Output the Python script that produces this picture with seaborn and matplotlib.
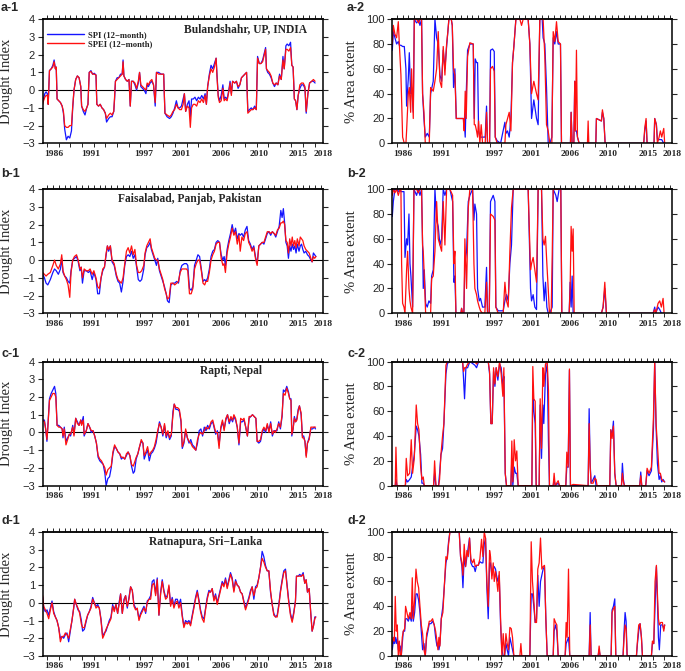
import numpy as np
import pandas as pd
import seaborn as sns
import matplotlib.pyplot as plt
from matplotlib.lines import Line2D

# ---------------- a: Bulandshahr, UP, INDIA ----------------
yr_a1 = [1985.0, 1985.1, 1985.25, 1985.4, 1985.55, 1985.65, 1985.8, 1986.0, 1986.2, 1986.35,
         1986.5, 1986.6, 1986.7, 1986.9, 1987.1, 1987.3, 1987.45, 1987.6, 1987.8, 1988.0,
         1988.2, 1988.4, 1988.55, 1988.7, 1988.9, 1989.1, 1989.3, 1989.5, 1989.6, 1989.8,
         1990.0, 1990.2, 1990.35, 1990.5, 1990.7, 1990.9, 1991.1, 1991.3, 1991.4, 1991.6,
         1991.8, 1992.0, 1992.2, 1992.4, 1992.55, 1992.8, 1993.0, 1993.2, 1993.4, 1993.5,
         1993.6, 1993.8, 1994.0, 1994.2, 1994.4, 1994.5, 1994.6, 1994.8, 1995.0, 1995.2,
         1995.35, 1995.5, 1995.7, 1995.9, 1996.1, 1996.3, 1996.45, 1996.6, 1996.8, 1997.0,
         1997.2, 1997.35, 1997.5, 1997.7, 1997.9, 1998.1, 1998.3, 1998.45, 1998.7, 1999.0,
         1999.3, 1999.45, 1999.7, 2000.0, 2000.2, 2000.4, 2000.6, 2000.8, 2001.0, 2001.2,
         2001.4, 2001.6, 2001.75, 2001.9, 2002.1, 2002.3, 2002.45, 2002.6, 2002.8, 2003.0,
         2003.2, 2003.4, 2003.6, 2003.8, 2004.0, 2004.2, 2004.35, 2004.5, 2004.7, 2004.9,
         2005.1, 2005.3, 2005.5, 2005.6, 2005.75, 2005.9, 2006.1, 2006.3, 2006.45, 2006.6,
         2006.8, 2007.0, 2007.15, 2007.3, 2007.45, 2007.7, 2007.9, 2008.1, 2008.3, 2008.5,
         2008.7, 2008.9, 2009.1, 2009.25, 2009.45, 2009.65, 2009.85, 2010.05, 2010.25, 2010.4,
         2010.6, 2010.8, 2011.0, 2011.2, 2011.35, 2011.45, 2011.6, 2011.8, 2012.0, 2012.2,
         2012.4, 2012.6, 2012.8, 2013.0, 2013.2, 2013.4, 2013.55, 2013.75, 2013.9, 2014.1,
         2014.3, 2014.45, 2014.6, 2014.75, 2014.9, 2015.05, 2015.2, 2015.4, 2015.6, 2015.8,
         2016.0, 2016.15, 2016.35, 2016.55, 2016.8, 2017.0, 2017.2]
spi_a1 = [-0.6, -0.5, -0.2, -0.1, -0.2, -0.8, 1.1, 1.2, 1.4, 1.7,
          1.2, 1.3, -0.5, -0.6, -0.7, -0.9, -1.3, -2.2, -2.8, -2.6,
          -2.7, -2.3, -1.0, 0.0, 0.6, 0.8, 0.7, 0.2, -0.9, -1.2,
          -1.4, -1.0, -0.8, 1.0, 1.1, 0.9, 0.95, 0.85, -0.8, -0.9,
          -0.8, -1.0, -1.1, -1.3, -1.8, -1.6, -1.5, -1.5, -1.2, -0.5,
          0.5, 0.7, 0.7, 0.9, 0.9, 1.7, 0.8, 0.6, 0.5, 0.6,
          -0.9, 0.5, 0.5, 0.3, 0.0, 0.4, 1.0, 0.2, 0.1, 0.0,
          -0.2, 0.3, 0.2, 0.4, 0.5, 0.3, -0.9, 1.0, 1.0, 0.9,
          0.9, -1.3, -1.5, -1.6, -1.5, -1.3, -1.0, -0.6, -1.0, -1.0,
          -0.9, -0.5, -0.2, -1.2, -0.8, -0.6, -1.5, -0.5, -0.5, -0.4,
          -0.6, -0.4, -0.5, -0.3, -0.5, -0.2, -0.8, 0.2, 0.9, 1.4,
          1.2, 1.5, 1.8, 0.9, -0.3, -0.6, -0.3, 0.3, -0.5, -0.4,
          -0.5, 0.0, 0.5, -0.2, 0.5, 0.4, 0.5, 0.1, 0.3, 0.7,
          0.8, 0.9, 1.0, -1.2, -1.1, -1.0, -1.1, -0.9, -1.1, 1.9,
          1.5, 1.5, 1.7, 2.1, 2.4, 1.2, 1.0, 0.9, 0.7, 0.4,
          0.2, 0.4, 0.3, 0.9, 0.6, 1.9, 1.2, 2.5, 2.6, 2.5,
          2.7, 1.4, 1.3, -0.5, -0.6, -1.1, -0.3, 0.1, 0.3, 0.3,
          0.1, -1.3, -0.2, 0.4, 0.5, 0.5, 0.4]
spei_a1 = [-0.8, -0.6, -0.4, -0.3, -0.3, -0.8, 1.1, 1.2, 1.3, 1.6,
           1.2, 1.3, -0.5, -0.6, -0.7, -0.9, -1.2, -2.0, -2.1, -2.1,
           -2.0, -2.0, -0.9, 0.0, 0.6, 0.8, 0.7, 0.2, -0.9, -1.1,
           -1.2, -1.0, -0.8, 1.0, 1.05, 0.9, 0.9, 0.85, -0.8, -0.9,
           -0.8, -1.0, -1.1, -1.3, -1.6, -1.4, -1.3, -1.4, -1.2, -0.4,
           0.5, 0.6, 0.7, 0.8, 0.9, 1.6, 0.8, 0.6, 0.5, 0.6,
           -0.9, 0.5, 0.5, 0.4, 0.1, 0.5, 1.0, 0.3, 0.2, 0.1,
           0.0, 0.4, 0.3, 0.5, 0.6, 0.3, -0.7, 1.0, 0.9, 0.9,
           0.9, -1.3, -1.4, -1.5, -1.4, -1.2, -1.1, -0.8, -1.0, -1.1,
           -1.1, -0.8, -0.2, -1.2, -0.9, -1.0, -2.1, -1.0, -0.8, -0.8,
           -0.9, -0.6, -0.7, -0.5, -0.7, -0.3, -0.8, 0.2, 0.8, 1.2,
           1.0, 1.3, 1.8, 0.8, -0.4, -0.7, -0.6, 0.1, -0.6, -0.5,
           -0.6, -0.1, 0.4, -0.3, 0.5, 0.4, 0.5, 0.2, 0.3, 0.7,
           0.8, 0.9, 1.0, -1.3, -1.2, -1.1, -1.1, -1.0, -1.1, 1.8,
           1.5, 1.5, 1.6, 2.0, 2.3, 1.2, 1.1, 1.0, 0.8, 0.4,
           0.3, 0.4, 0.3, 0.8, 0.6, 1.7, 1.2, 2.3, 2.3, 2.2,
           2.4, 1.4, 1.3, -0.5, -0.6, -1.1, -0.3, 0.3, 0.4, 0.4,
           0.2, -1.2, -0.2, 0.4, 0.5, 0.6, 0.5]

yr_a2 = [1985.0, 1985.12, 1985.31, 1985.51, 1985.71, 1985.83, 1986.02, 1986.22, 1986.42, 1986.61,
         1986.69, 1986.89, 1987.01, 1987.17, 1987.28, 1987.48, 1987.6, 1987.87, 1988.11, 1988.27,
         1988.46, 1988.58, 1988.74, 1988.9, 1989.13, 1989.37, 1989.53, 1989.84, 1990.04, 1990.24,
         1990.43, 1990.63, 1990.83, 1991.02, 1991.22, 1991.42, 1991.57, 1991.69, 1991.97, 1992.09,
         1992.24, 1992.4, 1992.56, 1993.39, 1993.5, 1993.62, 1993.74, 1993.9, 1994.17, 1994.57,
         1994.69, 1994.8, 1994.96, 1995.08, 1995.2, 1995.35, 1995.51, 1995.67, 1995.98, 1996.14,
         1996.26, 1996.5, 1996.61, 1996.85, 1997.05, 1997.17, 1997.4, 1997.8, 1998.31, 1998.43,
         1998.62, 1998.82, 1999.02, 1999.21, 1999.37, 1999.61, 2000.08, 2000.28, 2000.47, 2001.06,
         2001.26, 2001.46, 2001.73, 2002.05, 2002.24, 2002.44, 2002.72, 2002.83, 2003.03, 2003.23,
         2003.43, 2003.62, 2003.86, 2004.02, 2004.21, 2004.41, 2004.61, 2004.88, 2005.0, 2006.06,
         2006.14, 2006.26, 2006.46, 2006.57, 2006.65, 2006.77, 2006.89, 2007.09, 2008.07, 2008.15,
         2008.23, 2009.06, 2009.13, 2009.72, 2009.84, 2010.0, 2010.16, 2014.72, 2014.84, 2015.0,
         2015.12, 2015.94, 2016.02, 2016.22, 2016.34, 2016.54, 2016.69, 2016.85, 2017.09, 2017.2]
spi_a2 = [75, 90, 85, 80, 82, 79, 79, 78, 78, 60,
          30, 52, 73, 40, 45, 25, 100, 97, 99, 95,
          100, 40, 20, 5, 8, 5, 40, 50, 100, 85,
          80, 55, 50, 75, 60, 78, 90, 100, 100, 95,
          45, 60, 20, 20, 18, 5, 40, 75, 80, 80,
          20, 68, 65, 65, 10, 5, 5, 5, 5, 30,
          0, 0, 75, 76, 74, 5, 2, 0, 17, 8,
          10, 5, 20, 65, 78, 100, 100, 100, 100, 100,
          80, 20, 35, 20, 15, 100, 100, 85, 80, 45,
          0, 0, 5, 85, 80, 90, 80, 80, 0, 0,
          25, 0, 0, 50, 10, 10, 5, 0, 0, 0,
          0, 0, 20, 18, 25, 20, 0, 0, 10, 18,
          0, 0, 20, 15, 3, 3, 3, 3, 0, 0]
spei_a2 = [80, 95, 88, 85, 98, 80, 55, 5, 0, 0,
           10, 40, 45, 25, 60, 20, 100, 100, 97, 100,
           100, 40, 25, 0, 0, 0, 45, 42, 50, 60,
           90, 50, 45, 78, 55, 80, 90, 100, 100, 95,
           60, 55, 20, 20, 10, 42, 20, 70, 81, 80,
           15, 15, 10, 5, 18, 0, 15, 0, 0, 25,
           0, 0, 60, 62, 58, 5, 0, 0, 0, 15,
           20, 25, 10, 65, 78, 100, 100, 95, 100, 100,
           80, 40, 50, 40, 35, 100, 100, 100, 70, 15,
           10, 0, 0, 90, 82, 98, 82, 80, 0, 0,
           25, 0, 0, 50, 10, 75, 5, 0, 0, 18,
           0, 0, 20, 18, 27, 20, 0, 0, 12, 20,
           0, 0, 20, 15, 0, 5, 10, 5, 12, 0]

# ---------------- b: Faisalabad, Panjab, Pakistan ----------------
yr_b1 = [1985.0, 1985.2, 1985.4, 1985.6, 1985.9, 1986.2, 1986.4, 1986.6, 1986.85, 1987.1,
         1987.25, 1987.4, 1987.6, 1987.8, 1988.0, 1988.2, 1988.35, 1988.55, 1988.75, 1989.0,
         1989.2, 1989.4, 1989.55, 1989.7, 1989.9, 1990.15, 1990.4, 1990.6, 1990.85, 1991.05,
         1991.3, 1991.5, 1991.7, 1991.9, 1992.1, 1992.3, 1992.5, 1992.65, 1992.8, 1993.0,
         1993.2, 1993.45, 1993.7, 1993.9, 1994.1, 1994.3, 1994.5, 1994.7, 1994.9, 1995.1,
         1995.3, 1995.5, 1995.7, 1995.9, 1996.1, 1996.3, 1996.5, 1996.7, 1996.95, 1997.1,
         1997.3, 1997.5, 1997.7, 1997.85, 1998.05, 1998.25, 1998.45, 1998.6, 1998.8, 1999.0,
         1999.2, 1999.4, 1999.6, 1999.75, 1999.95, 2000.15, 2000.4, 2000.6, 2000.85, 2001.05,
         2001.25, 2001.45, 2001.75, 2002.0, 2002.15, 2002.35, 2002.55, 2002.75, 2002.95, 2003.15,
         2003.35, 2003.55, 2003.75, 2003.95, 2004.15, 2004.3, 2004.5, 2004.7, 2004.9, 2005.1,
         2005.3, 2005.5, 2005.7, 2005.9, 2006.1, 2006.3, 2006.45, 2006.6, 2006.8, 2007.0,
         2007.2, 2007.4, 2007.6, 2007.8, 2008.0, 2008.2, 2008.35, 2008.55, 2008.75, 2008.95,
         2009.15, 2009.35, 2009.55, 2009.75, 2009.95, 2010.15, 2010.35, 2010.55, 2010.75, 2010.95,
         2011.15, 2011.35, 2011.55, 2011.75, 2011.95, 2012.15, 2012.35, 2012.55, 2012.75, 2012.95,
         2013.15, 2013.3, 2013.45, 2013.6, 2013.75, 2013.9, 2014.05, 2014.2, 2014.35, 2014.5,
         2014.65, 2014.8, 2014.95, 2015.1, 2015.3, 2015.45, 2015.6, 2015.75, 2015.9, 2016.1,
         2016.3, 2016.5, 2016.7, 2016.85, 2017.0, 2017.15, 2017.3]
spi_b1 = [-0.8, -1.0, -1.3, -1.4, -1.1, -0.7, -0.5, -0.6, -0.8, -0.5,
          0.1, -0.7, -0.9, -1.0, -1.2, -1.3, -0.6, 0.0, 0.1, 0.2,
          -0.1, -0.6, -0.4, -1.3, -0.6, -0.6, -0.7, -0.6, -1.1, -0.7,
          -1.1, -1.9, -1.9, -1.0, -0.6, -0.4, 0.3, 0.8, 0.5, 0.8,
          -0.1, -0.3, -0.9, -1.2, -1.3, -1.8, -1.2, -0.3, 0.2, 0.3,
          0.2, 0.5, 0.1, 0.3, -0.4, -1.1, -1.2, -1.1, -0.5, 0.3,
          0.7, 0.8, 1.0, 0.6, 0.3, 0.0, -0.3, 0.1, -0.6, -0.9,
          -1.2, -1.5, -1.9, -2.3, -2.4, -1.4, -1.3, -1.3, -1.2, -1.3,
          -0.6, -0.3, -0.2, -0.2, -0.3, -1.6, -1.7, -1.5, -0.3, 0.0,
          0.3, 0.2, -0.5, -1.2, -1.1, -1.2, -1.0, -0.5, 0.2, 0.5,
          0.6, 1.0, 1.1, 1.0, 0.3, 0.0, 0.2, -0.3, 0.6, 1.1,
          1.5, 2.0, 1.5, 1.8, 1.2, 1.5, 1.4, 1.5, 1.3, 1.7,
          1.9, 1.1, 0.9, 0.6, 0.8, 0.2, -0.2, 0.8, 0.9, 1.0,
          0.9, 1.2, 1.5, 1.6, 1.4, 1.6, 1.5, 1.3, 1.6, 1.9,
          2.8, 2.4, 2.9, 2.1, 1.0, 0.8, 0.1, 0.8, 0.5, 0.9,
          0.6, 0.8, 0.4, 0.9, 0.5, 0.8, 0.9, 0.6, 0.4, 0.5,
          0.3, 0.2, 0.0, -0.1, 0.4, 0.3, 0.2]
spei_b1 = [-0.7, -0.8, -0.9, -0.8, -0.7, -0.3, 0.0, -0.3, -0.5, -0.2,
           0.3, -0.6, -0.9, -1.1, -1.4, -2.1, -0.7, 0.0, 0.2, 0.3,
           0.0, -0.5, -0.4, -1.0, -0.5, -0.6, -0.6, -0.5, -0.8, -0.6,
           -1.0, -1.5, -1.6, -1.0, -0.5, -0.4, 0.4, 0.8, 0.6, 0.8,
           0.0, -0.2, -0.8, -1.1, -1.2, -1.3, -1.0, -0.2, 0.5, 0.7,
           0.4, 0.8, 0.3, 0.6, -0.3, -0.7, -0.7, -0.6, -0.3, 0.4,
           0.8, 1.0, 1.2, 0.7, 0.4, 0.1, 0.0, 0.0, -0.5, -0.8,
           -1.1, -1.6, -1.9, -2.2, -2.1, -1.3, -1.3, -1.4, -1.3, -1.2,
           -0.7, -0.5, -0.5, -0.5, -0.6, -1.9, -1.9, -1.6, -0.5, -0.2,
           0.0, 0.0, -0.6, -1.3, -1.4, -1.2, -1.2, -0.7, 0.0, 0.3,
           0.5, 0.9, 1.0, 1.0, 0.1, -0.3, -0.2, -0.7, 0.4, 0.9,
           1.3, 1.8, 1.4, 1.6, 0.9, 1.4, 0.5, 1.3, 1.1, 1.5,
           1.6, 1.0, 0.8, 0.5, 0.7, 0.1, -0.3, 0.8, 0.9, 1.0,
           1.0, 1.3, 1.6, 1.6, 1.5, 1.6, 1.5, 1.4, 1.7, 1.8,
           2.1, 2.1, 2.2, 2.0, 1.1, 1.0, 0.4, 1.2, 0.8, 1.3,
           0.8, 1.1, 0.7, 1.2, 0.8, 1.3, 1.2, 1.1, 0.8, 0.6,
           0.5, 0.4, 0.1, -0.1, 0.2, 0.1, 0.2]

yr_b2 = [1985.0, 1985.12, 1985.31, 1985.51, 1985.71, 1985.91, 1986.02, 1986.1, 1986.22, 1986.38,
         1986.5, 1986.69, 1986.81, 1986.97, 1987.09, 1987.2, 1987.4, 1987.56, 1987.87, 1988.07,
         1988.27, 1988.46, 1988.58, 1988.66, 1988.78, 1988.94, 1989.13, 1989.33, 1989.53, 1989.65,
         1989.84, 1990.04, 1990.24, 1990.43, 1990.63, 1990.83, 1991.02, 1991.22, 1991.42, 1991.81,
         1992.13, 1992.28, 1992.4, 1992.52, 1993.11, 1993.19, 1993.31, 1993.46, 1993.58, 1993.78,
         1993.98, 1994.17, 1994.49, 1994.65, 1994.76, 1994.96, 1995.08, 1995.28, 1995.43, 1995.67,
         1995.94, 1996.14, 1996.26, 1996.46, 1996.61, 1996.93, 1997.13, 1997.24, 1997.52, 1998.11,
         1998.31, 1998.5, 1998.7, 1998.9, 1999.09, 1999.29, 2001.06, 2001.34, 2001.46, 2001.65,
         2001.85, 2002.05, 2002.24, 2002.64, 2002.8, 2002.95, 2003.11, 2003.27, 2003.43, 2003.58,
         2003.78, 2003.9, 2004.02, 2004.33, 2004.49, 2004.72, 2004.92, 2005.04, 2005.91, 2006.02,
         2006.14, 2006.26, 2006.38, 2006.5, 2009.72, 2009.92, 2010.12, 2010.31, 2015.83, 2016.02,
         2016.14, 2016.42, 2016.61, 2016.81, 2017.01, 2017.13]
spi_b2 = [78, 90, 100, 100, 98, 100, 98, 98, 98, 98,
          45, 60, 55, 80, 40, 30, 5, 100, 95, 100,
          95, 100, 55, 20, 35, 8, 5, 10, 8, 30,
          35, 100, 75, 70, 55, 60, 100, 95, 100, 100,
          90, 25, 30, 0, 0, 4, 0, 0, 40, 50,
          90, 95, 100, 75, 88, 80, 20, 10, 12, 5,
          5, 37, 0, 0, 90, 95, 90, 5, 2, 2,
          10, 15, 10, 40, 55, 100, 100, 20, 10, 15,
          5, 3, 100, 100, 30, 10, 25, 5, 0, 0,
          3, 5, 100, 95, 90, 100, 100, 0, 0, 25,
          5, 30, 0, 0, 0, 5, 20, 0, 0, 5,
          0, 5, 3, 0, 0, 0]
spei_b2 = [95, 100, 97, 100, 95, 100, 100, 40, 8, 5,
           0, 35, 50, 20, 10, 5, 0, 100, 100, 97,
           100, 100, 55, 50, 30, 0, 0, 0, 0, 28,
           30, 50, 90, 60, 55, 50, 90, 55, 100, 100,
           95, 40, 50, 0, 0, 4, 0, 0, 60, 20,
           85, 100, 100, 40, 20, 15, 10, 5, 2, 0,
           0, 25, 0, 0, 80, 78, 75, 5, 0, 0,
           25, 10, 5, 50, 85, 100, 100, 35, 40, 45,
           35, 25, 100, 100, 60, 55, 62, 40, 20, 0,
           0, 45, 100, 100, 100, 100, 100, 0, 0, 20,
           70, 50, 68, 0, 0, 5, 25, 0, 0, 3,
           0, 8, 10, 5, 12, 0]

# ---------------- c: Rapti, Nepal ----------------
yr_c1 = [1985.0, 1985.2, 1985.35, 1985.5, 1985.6, 1985.8, 1986.0, 1986.2, 1986.4, 1986.55,
         1986.7, 1986.9, 1987.1, 1987.3, 1987.4, 1987.55, 1987.75, 1987.95, 1988.15, 1988.3,
         1988.55, 1988.7, 1988.9, 1989.1, 1989.3, 1989.5, 1989.6, 1989.8, 1989.9, 1990.15,
         1990.35, 1990.55, 1990.75, 1990.95, 1991.15, 1991.35, 1991.55, 1991.75, 1991.95, 1992.15,
         1992.35, 1992.5, 1992.7, 1992.9, 1993.1, 1993.3, 1993.5, 1993.7, 1993.9, 1994.1,
         1994.3, 1994.5, 1994.7, 1994.9, 1995.1, 1995.3, 1995.5, 1995.7, 1995.85, 1996.05,
         1996.25, 1996.45, 1996.65, 1996.85, 1997.0, 1997.2, 1997.4, 1997.6, 1997.8, 1998.0,
         1998.2, 1998.4, 1998.6, 1998.8, 1999.0, 1999.2, 1999.4, 1999.6, 1999.8, 2000.0,
         2000.2, 2000.4, 2000.55, 2000.75, 2000.95, 2001.15, 2001.35, 2001.5, 2001.7, 2001.9,
         2002.1, 2002.3, 2002.5, 2002.7, 2002.9, 2003.1, 2003.3, 2003.5, 2003.7, 2003.9,
         2004.1, 2004.3, 2004.5, 2004.7, 2004.9, 2005.1, 2005.25, 2005.45, 2005.65, 2005.85,
         2006.05, 2006.25, 2006.45, 2006.65, 2006.85, 2007.05, 2007.25, 2007.45, 2007.6, 2007.8,
         2008.0, 2008.2, 2008.4, 2008.6, 2008.8, 2009.0, 2009.2, 2009.4, 2009.6, 2009.8,
         2010.0, 2010.2, 2010.35, 2010.55, 2010.75, 2010.95, 2011.15, 2011.35, 2011.55, 2011.75,
         2011.95, 2012.15, 2012.35, 2012.5, 2012.7, 2012.9, 2013.1, 2013.3, 2013.45, 2013.65,
         2013.85, 2014.05, 2014.2, 2014.35, 2014.45, 2014.6, 2014.75, 2014.9, 2015.05, 2015.2,
         2015.35, 2015.55, 2015.7, 2015.85, 2016.0, 2016.15, 2016.3, 2016.5, 2016.7, 2016.9,
         2017.1, 2017.25]
spi_c1 = [0.7, 0.7, 0.2, -0.5, 0.3, 1.9, 2.2, 2.4, 2.6, 2.2,
          0.4, 0.4, 0.3, 0.2, -0.3, 0.3, -0.5, -0.3, -0.1, -0.2,
          0.4, -0.1, 0.8, 0.6, 0.4, 0.7, 0.5, 0.9, -0.2, 0.1,
          0.5, 0.3, 0.0, 0.1, -0.2, -0.6, -1.4, -1.6, -1.7, -1.8,
          -2.3, -3.0, -2.6, -2.5, -2.0, -1.2, -0.8, -0.9, -1.1, -1.2,
          -1.5, -1.4, -1.5, -1.3, -1.1, -1.3, -1.9, -2.3, -2.2, -1.5,
          -1.2, -0.8, -0.5, -0.6, -1.5, -1.2, -1.0, -1.6, -1.2, -1.1,
          -0.9, -0.6, 0.0, 0.6, 0.3, -0.2, 0.4, -0.3, 0.0, -0.4,
          -0.2, 1.2, 1.6, 1.3, 1.3, 1.2, 0.6, -0.9, -0.6, 0.1,
          -0.3, -0.6, -0.4, -0.7, -0.8, -1.0, -0.6, 0.1, 0.2, -0.2,
          0.3, 0.1, 0.4, 0.2, 0.5, 0.6, 0.3, -0.1, 0.1, -0.7,
          0.2, 0.6, 0.2, 0.7, 1.0, 0.5, 0.8, 0.6, 0.9, 0.7,
          0.3, -0.7, 0.6, 0.6, 0.7, 0.3, -0.2, 0.8, 0.9, 1.0,
          0.9, 0.8, -0.5, -0.6, -0.5, 0.0, 0.2, 0.0, 0.4, 0.1,
          0.6, -0.2, 0.1, 0.1, 0.1, 0.6, 0.2, 0.9, 2.4, 2.3,
          2.6, 2.3, 1.9, 1.9, -0.2, 0.2, 0.9, 0.6, 0.8, 1.3,
          1.5, 1.0, -0.2, -0.2, -0.5, -1.3, -0.6, -0.3, 0.2, 0.2,
          0.3, 0.2]
spei_c1 = [0.7, 0.6, 0.2, -0.4, 0.2, 1.8, 2.0, 2.2, 2.2, 2.0,
           0.4, 0.3, 0.3, 0.2, -0.2, 0.2, -0.7, -0.4, -0.1, -0.1,
           0.3, -0.2, 0.8, 0.5, 0.4, 0.7, 0.4, 0.7, -0.1, 0.1,
           0.5, 0.3, 0.1, 0.1, -0.2, -0.6, -1.3, -1.5, -1.6, -1.8,
           -2.0, -2.4, -2.1, -2.0, -1.9, -1.1, -0.7, -0.9, -1.1, -1.2,
           -1.4, -1.4, -1.5, -1.2, -1.1, -1.3, -1.8, -1.9, -1.7, -1.4,
           -1.2, -0.8, -0.4, -0.6, -1.3, -1.1, -0.8, -1.3, -1.1, -1.0,
           -0.8, -0.4, 0.1, 0.5, 0.3, -0.1, 0.5, -0.2, 0.1, -0.3,
           -0.1, 1.0, 1.6, 1.4, 1.4, 1.3, 0.7, -0.8, -0.5, 0.2,
           -0.3, -0.5, -0.6, -0.8, -0.9, -1.0, -0.4, -0.1, 0.0, -0.1,
           0.1, 0.3, 0.2, 0.3, 0.6, 0.7, 0.4, 0.0, 0.0, -0.9,
           0.3, 0.7, 0.1, 0.8, 1.0, 0.6, 0.9, 0.7, 1.0, 0.8,
           0.3, -0.6, 0.8, 0.7, 0.8, 0.3, -0.2, 0.9, 0.9, 1.0,
           0.9, 0.8, -0.5, -0.5, -0.4, 0.1, 0.3, 0.1, 0.5, 0.0,
           0.5, -0.1, 0.1, 0.0, 0.2, 0.5, 0.3, 1.0, 2.2, 2.1,
           2.5, 2.2, 1.9, 1.8, -0.1, 0.2, 0.8, 0.6, 0.7, 1.2,
           1.5, 1.1, -0.3, -0.3, -0.5, -1.4, -0.6, -0.4, 0.3, 0.3,
           0.3, 0.3]

yr_c2 = [1985.0, 1985.35, 1985.43, 1985.55, 1986.54, 1986.65, 1986.81, 1987.05, 1987.24, 1987.4,
         1987.6, 1987.83, 1987.99, 1988.15, 1988.35, 1988.5, 1988.66, 1988.78, 1989.88, 1990.0,
         1990.16, 1990.47, 1990.59, 1990.75, 1990.94, 1991.1, 1991.34, 1991.5, 1991.69, 1993.31,
         1993.43, 1993.54, 1993.7, 1993.9, 1994.17, 1994.57, 1994.76, 1994.96, 1995.2, 1996.34,
         1996.5, 1996.65, 1996.81, 1996.97, 1997.13, 1997.28, 1997.48, 1997.68, 1997.87, 1998.07,
         1998.19, 1998.35, 1998.5, 1999.02, 1999.13, 1999.25, 1999.41, 1999.57, 1999.72, 1999.88,
         2001.5, 2001.61, 2001.73, 2001.89, 2002.01, 2002.36, 2002.48, 2002.64, 2002.8, 2002.91,
         2003.11, 2003.31, 2003.46, 2003.58, 2004.02, 2004.13, 2004.25, 2004.61, 2004.76, 2005.51,
         2005.63, 2005.79, 2005.94, 2006.06, 2006.38, 2008.15, 2008.27, 2008.39, 2008.5, 2008.74,
         2008.94, 2009.09, 2009.21, 2010.71, 2010.83, 2010.98, 2011.14, 2011.3, 2011.46, 2012.09,
         2012.2, 2012.32, 2012.44, 2014.25, 2014.37, 2014.49, 2014.96, 2015.12, 2015.35, 2015.63,
         2015.87, 2016.02, 2016.18, 2016.34, 2016.54, 2016.69, 2016.85, 2017.01, 2017.2]
spi_c2 = [0, 0, 5, 0, 0, 5, 3, 5, 7, 15,
          25, 48, 45, 40, 25, 2, 2, 0, 0, 10,
          0, 0, 10, 25, 30, 50, 90, 98, 100, 100,
          85, 70, 95, 95, 100, 98, 97, 95, 100, 100,
          90, 50, 50, 92, 80, 95, 85, 98, 95, 80,
          88, 10, 0, 0, 22, 0, 15, 10, 10, 0,
          0, 80, 60, 50, 0, 0, 65, 22, 65, 50,
          90, 98, 35, 0, 0, 5, 0, 2, 0, 0,
          15, 15, 93, 0, 0, 0, 62, 18, 2, 5,
          8, 0, 0, 0, 45, 40, 52, 10, 0, 0,
          18, 5, 0, 0, 11, 0, 0, 12, 8, 12,
          45, 100, 48, 18, 5, 8, 3, 5, 3]
spei_c2 = [0, 0, 31, 0, 0, 22, 8, 10, 37, 10,
           22, 65, 50, 45, 15, 5, 7, 0, 0, 20,
           0, 0, 5, 25, 40, 50, 97, 100, 100, 100,
           92, 95, 95, 98, 100, 100, 100, 98, 100, 100,
           92, 50, 50, 95, 82, 95, 88, 100, 90, 72,
           95, 10, 0, 0, 36, 3, 37, 20, 28, 0,
           0, 96, 70, 68, 0, 0, 70, 30, 95, 80,
           98, 100, 77, 0, 0, 10, 0, 4, 0, 0,
           27, 15, 94, 0, 1, 0, 50, 15, 2, 2,
           6, 5, 0, 0, 45, 38, 48, 10, 0, 0,
           10, 3, 0, 0, 8, 0, 0, 14, 10, 15,
           55, 100, 50, 33, 10, 10, 5, 4, 3]

# ---------------- d: Ratnapura, Sri-Lanka ----------------
yr_d1 = [1985.0, 1985.12, 1985.31, 1985.51, 1985.71, 1985.91, 1986.1, 1986.3, 1986.5, 1986.69,
         1986.89, 1987.09, 1987.28, 1987.48, 1987.68, 1987.87, 1988.07, 1988.27, 1988.46, 1988.66,
         1988.78, 1988.98, 1989.17, 1989.37, 1989.57, 1989.72, 1989.92, 1990.12, 1990.31, 1990.51,
         1990.71, 1990.91, 1991.1, 1991.3, 1991.5, 1991.69, 1991.89, 1992.09, 1992.28, 1992.48,
         1992.68, 1992.87, 1993.07, 1993.27, 1993.46, 1993.66, 1993.86, 1994.06, 1994.21, 1994.41,
         1994.61, 1994.8, 1995.0, 1995.2, 1995.39, 1995.59, 1995.79, 1995.98, 1996.18, 1996.38,
         1996.57, 1996.77, 1996.97, 1997.17, 1997.36, 1997.56, 1997.76, 1997.95, 1998.15, 1998.35,
         1998.54, 1998.74, 1998.94, 1999.13, 1999.33, 1999.53, 1999.72, 1999.92, 2000.12, 2000.31,
         2000.51, 2000.71, 2000.91, 2001.1, 2001.3, 2001.5, 2001.69, 2001.89, 2002.09, 2002.28,
         2002.48, 2002.68, 2002.87, 2003.07, 2003.27, 2003.46, 2003.66, 2003.86, 2004.06, 2004.25,
         2004.45, 2004.65, 2004.84, 2005.04, 2005.24, 2005.43, 2005.63, 2005.83, 2006.02, 2006.22,
         2006.42, 2006.61, 2006.81, 2007.01, 2007.2, 2007.4, 2007.6, 2007.8, 2007.99, 2008.19,
         2008.39, 2008.58, 2008.78, 2008.98, 2009.17, 2009.37, 2009.57, 2009.76, 2009.96, 2010.16,
         2010.35, 2010.55, 2010.75, 2010.94, 2011.14, 2011.34, 2011.54, 2011.73, 2011.93, 2012.13,
         2012.32, 2012.52, 2012.72, 2012.91, 2013.11, 2013.31, 2013.5, 2013.7, 2013.9, 2014.09,
         2014.29, 2014.49, 2014.69, 2014.88, 2015.0, 2015.2, 2015.39, 2015.59, 2015.79, 2015.98,
         2016.14, 2016.3, 2016.5, 2016.69, 2016.85, 2017.01, 2017.17, 2017.28]
spi_d1 = [0.3, -0.3, -0.5, -0.4, -0.7, -0.3, 0.1, -0.5, -0.8, -1.0,
          -1.4, -2.0, -1.9, -2.0, -1.8, -1.7, -2.2, -1.6, -1.0, -0.3,
          0.2, -0.1, -0.4, -0.5, -1.0, -1.6, -1.5, -1.1, -0.7, -0.5,
          -0.2, 0.3, 0.0, -0.2, -0.1, -0.3, -0.9, -1.9, -1.7, -1.6,
          -1.3, -1.0, -0.8, -0.1, -0.4, -0.1, -0.6, 0.1, 0.5, -0.6,
          0.2, 0.4, -0.3, 0.3, 0.9, 0.7, -0.1, -0.3, -0.4, -0.9,
          -0.6, -0.4, -0.2, -0.6, 0.1, 0.2, 0.4, 1.2, 1.3, 0.5,
          1.4, -0.7, 0.6, 1.3, 0.7, 0.3, 0.4, 0.9, -0.1, 0.3,
          -0.2, 0.2, 0.2, -0.1, 0.2, -0.7, -1.3, -1.0, -1.1, -1.0,
          -1.2, -0.7, -0.2, 0.3, 0.7, 0.2, -0.4, -0.8, -0.9, -0.3,
          0.3, 0.7, 0.6, 0.8, 0.2, 0.5, 0.0, 0.4, 0.8, 1.2,
          1.0, 1.4, 0.9, 1.3, 1.7, 1.4, 0.7, 1.3, 1.0, 0.9,
          0.6, 0.5, 0.1, -0.3, 0.0, 0.3, 0.7, 0.9, 0.2, 0.9,
          1.0, 1.4, 2.0, 2.9, 2.6, 2.1, 1.8, 1.8, 0.6, -0.1,
          -0.6, -0.8, -0.7, -0.1, 0.7, 1.3, 1.8, 1.9, 1.0, 0.1,
          -0.6, -1.0, -0.5, 0.1, 1.5, 1.5, 1.6, 1.5, 1.7, 1.1,
          1.3, 0.6, 0.8, -0.6, -1.6, -1.3, -0.8, -0.8]
spei_d1 = [0.4, -0.2, -0.4, -0.6, -0.9, -0.4, 0.0, -0.6, -0.8, -1.0,
           -1.4, -2.2, -1.9, -1.9, -1.7, -1.8, -2.0, -1.5, -1.0, -0.3,
           0.2, -0.1, -0.3, -0.6, -1.2, -1.4, -1.4, -1.0, -0.7, -0.5,
           -0.3, 0.2, 0.0, -0.3, -0.2, -0.3, -1.0, -2.0, -1.8, -1.5,
           -1.3, -1.1, -0.9, -0.2, -0.5, -0.1, -0.6, 0.0, 0.5, -0.6,
           0.1, 0.4, -0.2, 0.2, 0.9, 0.7, -0.2, -0.4, -0.3, -1.0,
           -0.7, -0.5, -0.3, -0.5, 0.0, 0.2, 0.2, 1.0, 1.1, 0.4,
           1.3, -0.7, 0.5, 1.2, 0.6, 0.2, 0.3, 1.0, -0.2, 0.2,
           -0.3, 0.0, 0.1, -0.3, 0.0, -0.8, -1.4, -1.1, -1.2, -1.1,
           -1.3, -0.8, -0.3, 0.2, 0.6, 0.1, -0.5, -0.9, -1.1, -0.4,
           0.2, 0.6, 0.6, 0.8, 0.1, 0.4, -0.1, 0.3, 0.7, 1.1,
           0.9, 1.3, 0.8, 1.2, 1.6, 1.3, 0.6, 1.2, 1.0, 0.9,
           0.6, 0.5, 0.0, -0.4, -0.1, 0.2, 0.6, 0.9, 0.4, 0.8,
           0.9, 1.4, 2.0, 2.5, 2.3, 2.0, 1.8, 1.8, 0.7, -0.1,
           -0.7, -0.8, -0.8, -0.2, 0.6, 1.2, 1.7, 1.8, 0.9, 0.0,
           -0.7, -1.1, -0.6, 0.1, 1.5, 1.5, 1.5, 1.5, 1.6, 1.1,
           1.3, 0.6, 0.8, -0.6, -1.6, -1.3, -0.9, -0.8]

yr_d2 = [1985.0, 1985.12, 1985.24, 1985.35, 1985.47, 1985.59, 1985.71, 1985.83, 1985.94, 1986.06,
         1986.18, 1986.3, 1986.46, 1986.57, 1986.73, 1986.89, 1987.09, 1987.24, 1987.36, 1987.48,
         1987.64, 1987.8, 1987.95, 1988.11, 1988.27, 1988.43, 1988.58, 1988.74, 1988.9, 1989.06,
         1989.21, 1989.37, 1989.57, 1989.76, 1989.96, 1990.12, 1990.28, 1990.39, 1990.51, 1990.63,
         1990.79, 1990.98, 1991.14, 1991.34, 1991.5, 1991.65, 1991.81, 1992.91, 1993.07, 1993.23,
         1993.35, 1993.5, 1993.66, 1993.82, 1993.98, 1994.13, 1994.29, 1994.49, 1994.65, 1994.8,
         1994.96, 1995.16, 1995.35, 1995.55, 1995.71, 1995.87, 1996.02, 1996.18, 1996.34, 1996.5,
         1996.61, 1996.77, 1996.93, 1997.05, 1997.2, 1997.32, 1997.48, 1997.64, 1997.8, 1997.95,
         1998.11, 1998.27, 1998.43, 1998.58, 1998.74, 1998.9, 1999.06, 1999.21, 1999.37, 2000.08,
         2000.2, 2000.31, 2001.26, 2001.42, 2001.57, 2001.73, 2001.89, 2002.05, 2002.2, 2002.36,
         2002.52, 2002.68, 2002.83, 2002.99, 2003.15, 2003.31, 2004.02, 2004.13, 2004.29, 2004.45,
         2004.61, 2005.43, 2005.55, 2005.67, 2005.83, 2005.98, 2008.27, 2008.39, 2008.5, 2009.33,
         2009.45, 2009.57, 2010.87, 2010.98, 2011.14, 2011.3, 2011.42, 2012.28, 2012.4, 2012.52,
         2012.64, 2012.76, 2013.86, 2013.98, 2014.13, 2014.29, 2014.45, 2014.57, 2015.63, 2015.75,
         2015.91, 2016.06, 2016.22, 2016.34, 2016.46, 2016.57, 2016.73, 2016.93, 2017.09, 2017.2]
spi_d2 = [5, 12, 10, 15, 10, 15, 5, 5, 8, 0,
          10, 20, 20, 30, 30, 28, 32, 28, 40, 28,
          35, 50, 50, 45, 35, 20, 5, 10, 0, 15,
          20, 26, 26, 28, 25, 15, 8, 10, 5, 10,
          30, 40, 55, 75, 80, 92, 100, 100, 80, 72,
          55, 80, 72, 80, 88, 95, 75, 72, 72, 68,
          73, 73, 76, 75, 75, 90, 95, 55, 30, 75,
          75, 65, 70, 72, 70, 65, 60, 65, 25, 5,
          0, 0, 10, 5, 0, 15, 10, 5, 0, 0,
          0, 0, 0, 50, 50, 40, 27, 30, 65, 40,
          60, 65, 70, 72, 30, 0, 0, 20, 25, 20,
          0, 0, 10, 12, 15, 0, 0, 35, 0, 0,
          5, 0, 0, 37, 40, 46, 0, 0, 20, 35,
          28, 0, 0, 10, 20, 26, 15, 0, 0, 10,
          10, 40, 72, 45, 15, 5, 25, 25, 22, 25]
spei_d2 = [10, 15, 12, 48, 20, 25, 0, 12, 0, 0,
           15, 20, 22, 40, 35, 30, 35, 30, 63, 30,
           45, 70, 60, 55, 40, 25, 18, 5, 0, 18,
           22, 28, 28, 30, 25, 20, 12, 5, 15, 8,
           30, 35, 55, 80, 78, 90, 100, 100, 80, 75,
           65, 90, 72, 85, 80, 95, 78, 75, 78, 72,
           73, 73, 78, 94, 80, 100, 95, 60, 40, 85,
           80, 62, 75, 60, 68, 62, 52, 68, 30, 0,
           18, 0, 18, 10, 5, 23, 22, 15, 0, 0,
           10, 0, 0, 92, 60, 45, 27, 27, 70, 75,
           95, 70, 72, 73, 30, 0, 0, 30, 27, 25,
           0, 0, 27, 15, 70, 0, 0, 25, 0, 0,
           8, 0, 0, 35, 38, 40, 0, 0, 15, 25,
           22, 0, 0, 12, 25, 26, 15, 0, 0, 12,
           10, 60, 73, 50, 30, 25, 27, 27, 20, 25]

sites = ['Bulandshahr, UP, INDIA', 'Faisalabad, Panjab, Pakistan',
         'Rapti, Nepal', 'Ratnapura, Sri\u2212Lanka']
year_labels = ['1986', '1991', '1997', '2001', '2006', '2010', '2015', '2018']
SPI = 'SPI (12\u2212month)'
SPEI = 'SPEI (12\u2212month)'

sns.set_theme(style='ticks')
plt.rcParams['font.family'] = ['Liberation Serif', 'DejaVu Serif']

W, H = 685, 671
fig = plt.figure(figsize=(W / 100, H / 100), dpi=100)

label_pos = [1986.28, 1990.71, 1996.95, 2001.38, 2006.04, 2010.57, 2015.22, 2018.1]
bottom_minor = np.arange(1985.53, 2018.1, 1.375)
top_minor = np.arange(1985.53, 2018.1, 0.6875)


def long_frame(yr, spi, spei):
    return pd.concat([pd.DataFrame({'year': yr, 'value': spi, 'series': SPI}),
                      pd.DataFrame({'year': yr, 'value': spei, 'series': SPEI})],
                     ignore_index=True)


def panel(rect, yr, spi, spei, kind):
    ax = fig.add_axes(rect)
    df = long_frame(yr, spi, spei)
    if kind == 'index':
        ax.axhline(0, color='black', lw=0.8, zorder=1)
    sns.lineplot(data=df, x='year', y='value', hue='series', hue_order=[SPI, SPEI],
                 palette=['#1414ff', '#ff1010'], estimator=None, sort=False,
                 lw=0.9, legend=False, ax=ax, zorder=2)
    ax.set_xlim(1985, 2018.1)
    ax.set_xticks(label_pos)
    ax.set_xticklabels(year_labels)
    ax.tick_params(axis='x', which='major', length=0, pad=4.5, labelsize=6.8,
                   labelfontfamily='Liberation Serif')
    for t in ax.get_xticklabels():
        t.set_fontweight('bold')
    ax.set_xticks(bottom_minor, minor=True)
    ax.tick_params(axis='x', which='minor', length=3, width=0.7, direction='out',
                   bottom=True, top=False)
    sec = ax.secondary_xaxis('top')
    sec.set_xticks(top_minor)
    sec.tick_params(axis='x', length=3, width=0.7, direction='out', labeltop=False)
    sec.spines['top'].set_linewidth(1.1)
    if kind == 'index':
        ax.set_ylim(-3, 4)
        ticks = list(range(-3, 5))
        ax.set_ylabel('Drought Index', fontsize=10.5)
        ax.yaxis.set_label_coords(-0.105, 0.5)
    else:
        ax.set_ylim(0, 100)
        ticks = list(range(0, 101, 20))
        ax.set_ylabel('% Area extent', fontsize=10.5)
        ax.yaxis.set_label_coords(-0.122, 0.5)
    ax.set_yticks(ticks)
    ax.set_yticklabels([str(t).replace('-', '\u2212') for t in ticks])
    ax.tick_params(axis='y', direction='out', length=3.5, width=0.8, pad=2,
                   left=True, right=True, labelsize=8, labelfontfamily='Liberation Sans')
    ax.set_xlabel('')
    for s in ax.spines.values():
        s.set_visible(True)
        s.set_linewidth(1.1)
        s.set_color('black')
    return ax


bottoms = [0.7864, 0.5331, 0.2762, 0.0224]
letter_tops = [2, 168, 348, 515]
title_x = [0.7225, 0.526, 0.6725, 0.58]
left_data = [(yr_a1, spi_a1, spei_a1), (yr_b1, spi_b1, spei_b1),
             (yr_c1, spi_c1, spei_c1), (yr_d1, spi_d1, spei_d1)]
right_data = [(yr_a2, spi_a2, spei_a2), (yr_b2, spi_b2, spei_b2),
              (yr_c2, spi_c2, spei_c2), (yr_d2, spi_d2, spei_d2)]

for i, letter in enumerate('abcd'):
    axl = panel([42.7 / W, bottoms[i], 280 / W, 0.185], *left_data[i], 'index')
    axr = panel([392.3 / W, bottoms[i], 280 / W, 0.185], *right_data[i], 'area')
    axl.text(title_x[i], 0.92, sites[i], transform=axl.transAxes, ha='center', va='center',
             fontsize=8.3, fontweight='bold')
    fig.text(1 / W, 1 - letter_tops[i] / H, f'{letter}-1', fontsize=9, fontweight='bold',
             family='Liberation Sans', va='top', ha='left')
    fig.text(347 / W, 1 - letter_tops[i] / H, f'{letter}-2', fontsize=9, fontweight='bold',
             family='Liberation Sans', va='top', ha='left')
    if i == 0:
        handles = [Line2D([], [], color='#1414ff', lw=1.0), Line2D([], [], color='#ff1010', lw=1.0)]
        axl.legend(handles, [SPI, SPEI], loc='upper left', bbox_to_anchor=(0.014, 0.905),
                   frameon=False, borderpad=0, borderaxespad=0, handlelength=4.3,
                   handletextpad=0.5, labelspacing=0.1,
                   prop={'family': 'Liberation Serif', 'weight': 'bold', 'size': 6.2})

fig.savefig('out.png', dpi=100)
